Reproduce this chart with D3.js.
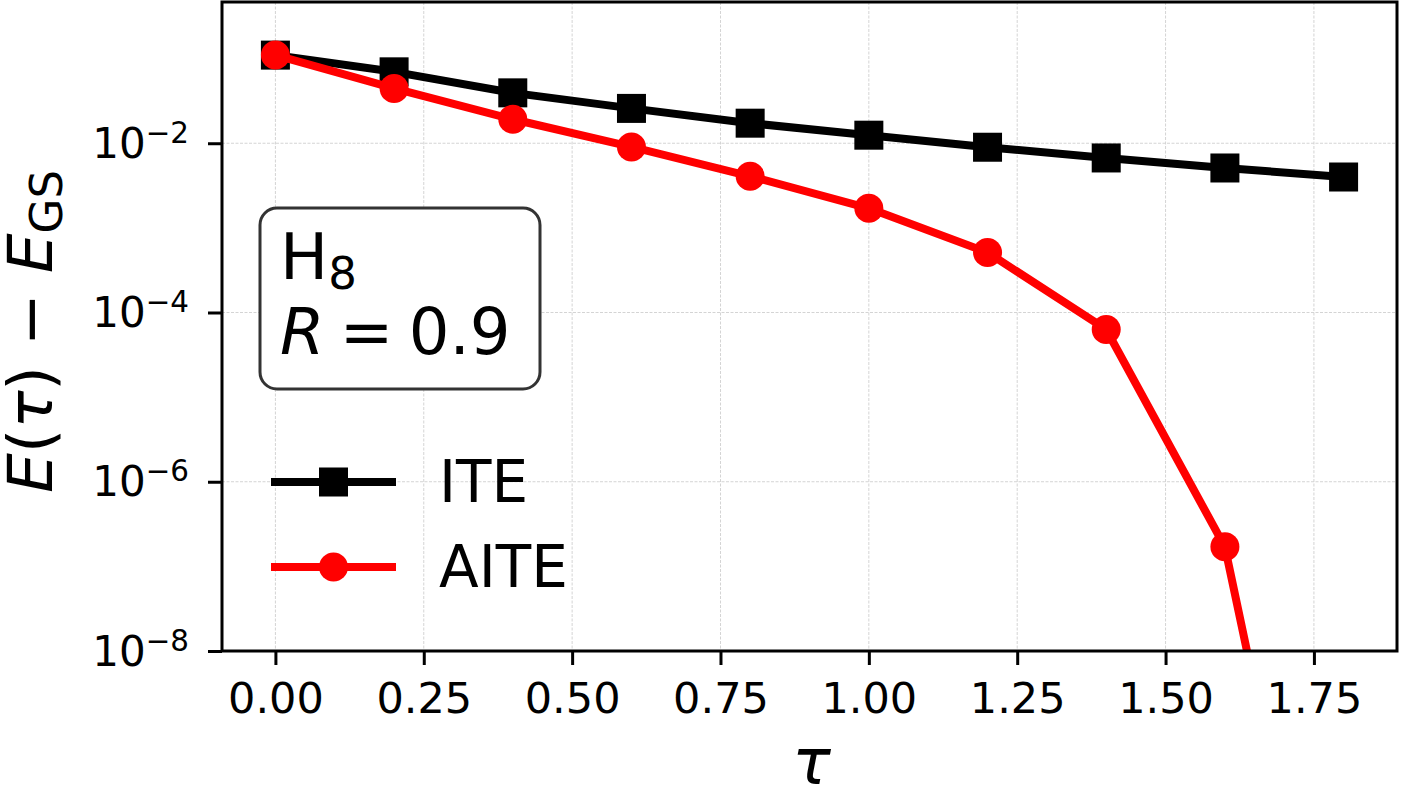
<!DOCTYPE html>
<html>
<head>
<meta charset="utf-8">
<script src="https://cdn.jsdelivr.net/npm/d3@7"></script>
<style>
  body { margin: 0; background: #fff; }
  svg { display: block; font-family: "DejaVu Sans", sans-serif; }
</style>
</head>
<body>
<svg id="chart" width="1401" height="793"></svg>
<script>
// imaginary time steps
let tau = [0.0, 0.2, 0.4, 0.6, 0.8, 1.0, 1.2, 1.4, 1.6, 1.8]

// energy error above ground state
let ite_values = [0.110, 0.0698, 0.0394, 0.0258, 0.01726, 0.01245, 0.00897, 0.0067, 0.0051, 0.00399]
let aite_values = [0.110, 0.0444, 0.0192, 0.00904, 0.00407, 0.0017, 0.000513, 6.3e-5, 1.7e-7, 4.1e-14]

let x_ticks = [0, 0.25, 0.5, 0.75, 1.0, 1.25, 1.5, 1.75]
let y_ticks = [1e-2, 1e-4, 1e-6, 1e-8]

let series = [
    { name: "ITE", values: ite_values, color: "#000000", marker: "square" },
    { name: "AITE", values: aite_values, color: "#ff0000", marker: "circle" }
]

let box = { left: 222, right: 1397, top: 2, bottom: 651 }
let svg = d3.select('#chart')

let x = d3.scaleLinear().domain([-0.09, 1.89]).range([box.left, box.right])
let y = d3.scaleLog().domain([1e-8, Math.pow(10, -0.331)]).range([box.bottom, box.top])

svg.append('defs').append('clipPath').attr('id', 'plot-clip')
    .append('rect')
    .attr('x', box.left).attr('y', box.top)
    .attr('width', box.right - box.left).attr('height', box.bottom - box.top)

// grid
let grid = svg.append('g').attr('class', 'grid')
grid.selectAll('.vgrid').data(x_ticks).join('line')
    .attr('x1', (d) => x(d)).attr('x2', (d) => x(d))
    .attr('y1', box.top).attr('y2', box.bottom)
grid.selectAll('.hgrid').data(y_ticks).join('line').attr('class', 'hgrid')
    .attr('x1', box.left).attr('x2', box.right)
    .attr('y1', (d) => y(d)).attr('y2', (d) => y(d))
grid.selectAll('line')
    .attr('stroke', '#d4d4d4').attr('stroke-width', 1).attr('stroke-dasharray', '3,1.5')

// lines + markers
let plot = svg.append('g').attr('clip-path', 'url(#plot-clip)')
let line = d3.line().x((d, i) => x(tau[i])).y((d) => y(d))
let marker_size = 29

for (let s of series) {
    plot.append('path')
        .attr('d', line(s.values))
        .attr('fill', 'none')
        .attr('stroke', s.color)
        .attr('stroke-width', 8)
        .attr('stroke-linejoin', 'round')

    if (s.marker == "square") {
        plot.selectAll(null).data(s.values).join('rect')
            .attr('x', (d, i) => x(tau[i]) - marker_size / 2)
            .attr('y', (d) => y(d) - marker_size / 2)
            .attr('width', marker_size).attr('height', marker_size)
            .attr('fill', s.color)
    } else {
        plot.selectAll(null).data(s.values).join('circle')
            .attr('cx', (d, i) => x(tau[i]))
            .attr('cy', (d) => y(d))
            .attr('r', marker_size / 2)
            .attr('fill', s.color)
    }
}

// axes
let x_axis = svg.append('g')
    .attr('transform', `translate(0,${box.bottom})`)
    .call(d3.axisBottom(x).tickValues(x_ticks).tickFormat(d3.format('.2f'))
        .tickSize(14).tickSizeOuter(0).tickPadding(17))

let y_axis = svg.append('g')
    .attr('transform', `translate(${box.left},0)`)
    .call(d3.axisLeft(y).tickValues(y_ticks).tickSize(14).tickSizeOuter(0).tickPadding(19))

for (let ax of [x_axis, y_axis]) {
    ax.select('.domain').remove()
    ax.selectAll('.tick line').attr('stroke', '#000').attr('stroke-width', 3)
    ax.selectAll('.tick text').attr('fill', '#000')
        .attr('font-family', '"DejaVu Sans", sans-serif').attr('font-size', 43)
}
x_axis.selectAll('.tick text').attr('dy', '0.72em')

y_axis.selectAll('.tick text').attr('font-size', 42).attr('dy', 14).each(function (d) {
    let t = d3.select(this)
    t.text(null)
    t.append('tspan').text('10')
    t.append('tspan').attr('font-size', 29.4).attr('dy', -15).text('\u2212' + Math.round(-Math.log10(d)))
})

// frame
svg.append('rect')
    .attr('x', box.left).attr('y', box.top)
    .attr('width', box.right - box.left).attr('height', box.bottom - box.top)
    .attr('fill', 'none').attr('stroke', '#000').attr('stroke-width', 3)

// axis labels
svg.append('text')
    .attr('x', (box.left + box.right) / 2 + 2).attr('y', 784)
    .attr('text-anchor', 'middle').attr('font-size', 64).attr('font-style', 'italic')
    .text('\u03c4')

let ylab = svg.append('text')
    .attr('transform', `translate(52,${(box.top + box.bottom) / 2 + 5}) rotate(-90)`)
    .attr('text-anchor', 'middle').attr('font-size', 63)
ylab.append('tspan').attr('font-style', 'italic').text('E')
ylab.append('tspan').text('(')
ylab.append('tspan').attr('font-style', 'italic').text('\u03c4')
ylab.append('tspan').text(') \u2212 ')
ylab.append('tspan').attr('font-style', 'italic').text('E')
ylab.append('tspan').attr('font-size', 45).attr('dy', 10).text('GS')

// annotation box
svg.append('rect')
    .attr('x', 260).attr('y', 208).attr('width', 280).attr('height', 181)
    .attr('rx', 17).attr('ry', 17)
    .attr('fill', '#fff').attr('stroke', '#333').attr('stroke-width', 3)

let note1 = svg.append('text').attr('x', 280).attr('y', 279).attr('font-size', 64)
note1.append('tspan').text('H')
note1.append('tspan').attr('font-size', 45).attr('dy', 10).text('8')

let note2 = svg.append('text').attr('x', 280).attr('y', 354).attr('font-size', 64)
    .attr('word-spacing', -5)
note2.append('tspan').attr('font-style', 'italic').text('R')
note2.append('tspan').text(' = 0.9')

// legend
let legend = svg.append('g')
series.forEach((s, i) => {
    let ly = 482 + i * 85
    legend.append('line')
        .attr('x1', 271).attr('x2', 396).attr('y1', ly).attr('y2', ly)
        .attr('stroke', s.color).attr('stroke-width', 8)
    if (s.marker == "square") {
        legend.append('rect')
            .attr('x', 333.5 - marker_size / 2).attr('y', ly - marker_size / 2)
            .attr('width', marker_size).attr('height', marker_size).attr('fill', s.color)
    } else {
        legend.append('circle').attr('cx', 333.5).attr('cy', ly).attr('r', marker_size / 2).attr('fill', s.color)
    }
    legend.append('text')
        .attr('x', 439).attr('y', ly + 20)
        .attr('font-size', 58).attr('fill', '#000')
        .text(s.name)
})
</script>
</body>
</html>
